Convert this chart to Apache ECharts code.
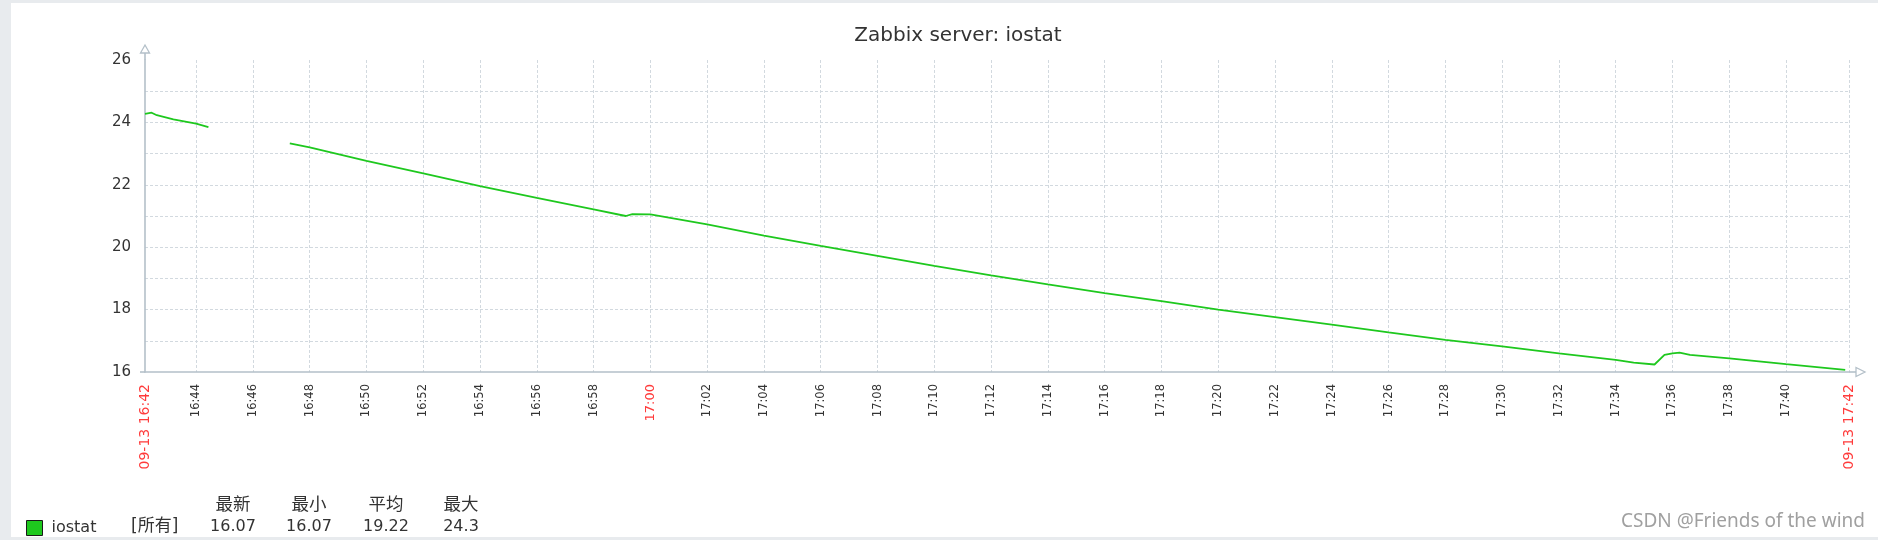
<!DOCTYPE html>
<html><head><meta charset="utf-8">
<script src="https://cdn.jsdelivr.net/npm/echarts@6/dist/echarts.min.js"></script>
<style>
html,body{margin:0;padding:0;background:#fff;}
#c{position:absolute;left:0;top:0;width:1878px;height:540px;}
.strip{position:absolute;background:#e8ebee;z-index:5}
</style></head><body>
<div id="c"></div>
<div class="strip" style="left:0;top:0;width:1878px;height:3px"></div>
<div class="strip" style="left:0;top:0;width:11px;height:540px"></div>
<div class="strip" style="left:0;top:537px;width:1878px;height:3px"></div>
<script>
// ---- data ----
const chartTitle = 'Zabbix server: iostat';
const seriesName = 'iostat';
const dateLabel = '09-13';
const startTime = '16:42:12';
const endTime = '17:42:13';
const times = ['16:42:12','16:42:26','16:42:37','16:43:12','16:44:00','16:44:26','16:46:00','16:47:18','16:48:00','16:50:00','16:52:00','16:54:00','16:56:00','16:58:00','16:59:08','16:59:22','17:00:00','17:02:00','17:04:00','17:06:00','17:08:00','17:10:00','17:12:00','17:14:00','17:16:00','17:18:00','17:20:00','17:22:00','17:24:00','17:26:00','17:28:00','17:30:00','17:32:00','17:34:00','17:34:38','17:35:22','17:35:43','17:36:00','17:36:15','17:36:37','17:38:00','17:40:00','17:42:05'];
const values = [24.27,24.31,24.23,24.10,23.96,23.85,null,23.33,23.20,22.77,22.37,21.96,21.58,21.21,21.00,21.06,21.05,20.73,20.37,20.04,19.72,19.40,19.10,18.81,18.53,18.27,18.00,17.76,17.52,17.27,17.03,16.82,16.60,16.39,16.30,16.24,16.55,16.60,16.62,16.55,16.44,16.25,16.07];
const xTickTimes = ['16:44','16:46','16:48','16:50','16:52','16:54','16:56','16:58','17:00','17:02','17:04','17:06','17:08','17:10','17:12','17:14','17:16','17:18','17:20','17:22','17:24','17:26','17:28','17:30','17:32','17:34','17:36','17:38','17:40'];
const redTimes = ['17:00'];
const yMin = 16, yMax = 26;
const yLabels = [16,18,20,22,24,26];
const yGridValues = [17,18,19,20,21,22,23,24,25];
const statScope = '[所有]';
const statHeaders = ['最新','最小','平均','最大'];
const statValues = ['16.07','16.07','19.22','24.3'];
const watermark = 'CSDN @Friends of the wind';

// ---- helpers ----
const FONT = '"DejaVu Sans", "Noto Sans CJK SC", sans-serif';
const AXIS_COLOR = '#b4c0c9';
const GRID_COLOR = '#d2d9df';
const GREEN = '#1ec81e';
const RED = '#ff3b3b';
const base = 16*60+42;
function toMin(s){const p=s.split(':').map(Number);return p[0]*60+p[1]+(p[2]||0)/60-base;}
const xMin = toMin(startTime), xMax = toMin(endTime);
const xTicks = xTickTimes.map(toMin);
const redTicks = redTimes.map(toMin);
function fmtTime(v){const t=Math.floor(v+base+1e-6);const h=Math.floor(t/60),m=t%60;return String(h).padStart(2,'0')+':'+String(m).padStart(2,'0');}
const seriesData = times.map((t,i)=>[toMin(t), values[i]==null?'-':values[i]]);

const chart = echarts.init(document.getElementById('c'));
chart.setOption({
  animation:false,
  textStyle:{fontFamily:FONT},
  title:{text:chartTitle,left:953,top:21,textAlign:'center',
    textStyle:{fontSize:20,fontWeight:'normal',color:'#333',fontFamily:FONT}},
  legend:{left:26,top:520,padding:0,itemWidth:16,itemHeight:15,selectedMode:false,
    data:[{name:seriesName,icon:'rect'}],
    itemStyle:{color:GREEN,borderColor:'#1a1a1a',borderWidth:1},
    textStyle:{fontSize:16,color:'#333',fontFamily:FONT,padding:[0,0,0,4]}},
  grid:{left:145,right:29,top:60,bottom:168,containLabel:false},
  xAxis:{type:'value',min:xMin,max:xMax,
    axisLine:{show:true,lineStyle:{color:AXIS_COLOR,width:1.6}},
    axisTick:{show:false,customValues:xTicks.concat([xMax])},
    splitLine:{show:true,lineStyle:{color:GRID_COLOR,width:1,type:[3,2]}},
    axisLabel:{rotate:90,margin:12,customValues:[xMin].concat(xTicks,[xMax]),
      formatter:function(v){
        v=Number(v);
        if(Math.abs(v-xMin)<1e-6) return '{d|'+dateLabel+' '+fmtTime(xMin)+'}';
        if(Math.abs(v-xMax)<1e-6) return '{d|'+dateLabel+' '+fmtTime(xMax)+'}';
        if(redTicks.some(r=>Math.abs(r-v)<1e-6)) return '{r|'+fmtTime(v)+'}';
        return '{n|'+fmtTime(v)+'}';
      },
      rich:{d:{color:RED,fontSize:14,fontFamily:FONT},r:{color:RED,fontSize:13,fontFamily:FONT},n:{color:'#333',fontSize:11.5,fontFamily:FONT}}}
  },
  yAxis:{type:'value',min:yMin,max:yMax,interval:1,
    axisLine:{show:true,lineStyle:{color:AXIS_COLOR,width:1.6}},
    axisTick:{show:false,customValues:yGridValues},
    splitLine:{show:true,lineStyle:{color:GRID_COLOR,width:1,type:[3,2]}},
    axisLabel:{customValues:yLabels,margin:14,fontSize:15,color:'#333',fontFamily:FONT}
  },
  series:[{name:seriesName,type:'line',data:seriesData,showSymbol:false,symbol:'none',
    connectNulls:false,itemStyle:{color:GREEN},lineStyle:{color:GREEN,width:1.8}}]
});

const o = chart.convertToPixel({gridIndex:0},[xMin,yMin]);
const t = chart.convertToPixel({gridIndex:0},[xMin,yMax]);
const e = chart.convertToPixel({gridIndex:0},[xMax,yMin]);
const g = [];
const arrowStyle = {stroke:AXIS_COLOR,lineWidth:1.3,fill:'#fff'};
g.push({type:'line',shape:{x1:t[0],y1:t[1],x2:t[0],y2:t[1]-7},style:{stroke:AXIS_COLOR,lineWidth:1.6},silent:true});
g.push({type:'polygon',shape:{points:[[t[0]-4.5,t[1]-7],[t[0]+4.5,t[1]-7],[t[0],t[1]-15]]},style:arrowStyle,silent:true});
g.push({type:'line',shape:{x1:e[0],y1:e[1],x2:e[0]+7,y2:e[1]},style:{stroke:AXIS_COLOR,lineWidth:1.6},silent:true});
g.push({type:'polygon',shape:{points:[[e[0]+7,e[1]-4.5],[e[0]+7,e[1]+4.5],[e[0]+16,e[1]]]},style:arrowStyle,silent:true});
g.push({type:'line',shape:{x1:o[0]-5,y1:o[1],x2:o[0],y2:o[1]},style:{stroke:AXIS_COLOR,lineWidth:1.6},silent:true});
// legend stats table
const colX = [233,309,386,461];
g.push({type:'text',x:131,y:527,style:{text:statScope,fontSize:17,fontFamily:FONT,fill:'#333',align:'left',verticalAlign:'middle'}});
statHeaders.forEach((h,i)=>{
  g.push({type:'text',x:colX[i],y:505,style:{text:h,fontSize:17.5,fontFamily:FONT,fill:'#333',align:'center',verticalAlign:'middle'}});
  g.push({type:'text',x:colX[i],y:527,style:{text:statValues[i],fontSize:16,fontFamily:FONT,fill:'#333',align:'center',verticalAlign:'middle'}});
});
g.push({type:'text',x:1865,y:522,style:{text:watermark,fontSize:19,fontFamily:'"Noto Sans", sans-serif',fill:'#a0a0a0',align:'right',verticalAlign:'middle'}});
chart.setOption({graphic:g});
</script>
</body></html>
